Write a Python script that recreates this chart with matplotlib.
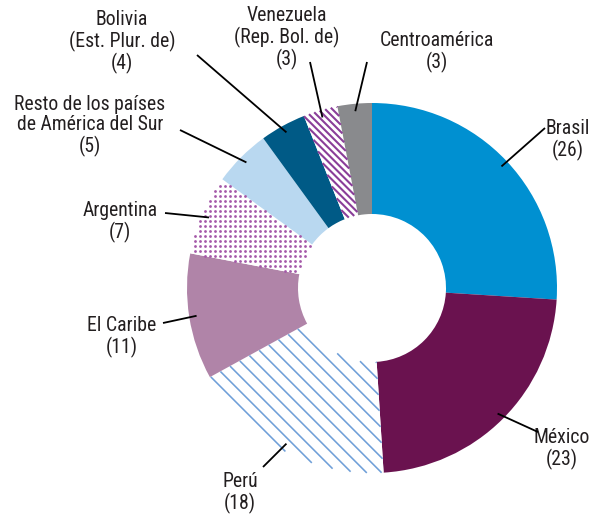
import matplotlib
matplotlib.use("Agg")
import matplotlib.pyplot as plt
from matplotlib import font_manager as fm
import numpy as np

categories = ["Brasil", "México", "Perú", "El Caribe", "Argentina",
              "Resto de los países\nde América del Sur",
              "Bolivia\n(Est. Plur. de)", "Venezuela\n(Rep. Bol. de)",
              "Centroamérica"]
values = [26, 23, 18, 11, 7, 5, 4, 3, 3]

colors = ["#0090D1", "#6A124F", "white", "#B084A8", "white",
          "#B9D8F0", "#005A86", "white", "#898A8D"]
# pattern: (kind, color, spacing px, width)
patterns = [None, None, ("lines", "#6F9FD8", 10.6, 1.15), None,
            ("dots", "#A458A8", 5.0, 4.0), None, None,
            ("lines", "#8A3E99", 5.0, 1.5), None]

# label layout (pixel coords, y from top): text center, line outer end
text_pos = [(568, 140), (562, 449), (240, 493), (122, 337), (120, 222),
            (90, 126), (122, 42), (287, 38), (437, 52)]
line_end = [(545, 128), (538, 432), (263, 467), (163, 323), (165, 213),
            (180, 130), (197, 55), (310, 62), (367, 62)]


def pick_font():
    cands = []
    for f in fm.fontManager.ttflist:
        st = f.stretch
        cond = ('Narrow' in f.name or 'Condensed' in f.name or
                (isinstance(st, str) and 'condensed' in st) or
                (isinstance(st, (int, float)) and st < 500))
        if cond and f.style == 'normal' and f.weight in (400, 'normal', 'regular', 'book'):
            cands.append(f)
    pref = ['Liberation Sans Narrow', 'Roboto Condensed', 'Open Sans Condensed',
            'DejaVu Sans']
    for p in pref:
        for f in cands:
            if f.name == p:
                return f.fname
    if cands:
        return cands[0].fname
    return None


fname = pick_font()
if fname:
    fprop = fm.FontProperties(fname=fname, size=14.2)
else:
    fprop = fm.FontProperties(family=['Liberation Sans', 'DejaVu Sans'], size=12)

W, H = 603, 516
fig = plt.figure(figsize=(W / 100, H / 100), dpi=100)
ax = fig.add_axes([0, 0, 1, 1])

cx, cy, R = 372, H - 288, 185
RI = R * 0.4
wedges, _ = ax.pie(values, startangle=90, counterclock=False, radius=R,
                   center=(cx, cy), colors=colors,
                   wedgeprops=dict(width=R - RI, linewidth=0))


def inside(w, x, y):
    r = np.hypot(x - cx, y - cy)
    a = np.degrees(np.arctan2(y - cy, x - cx))
    span = (w.theta2 - w.theta1) % 360
    rel = (a - w.theta1) % 360
    return (r <= R) & (r >= RI) & (rel <= span)


# custom patterns restricted to the wedge area
for w, pat in zip(wedges, patterns):
    if not pat:
        continue
    kind, col, sp, lw = pat
    if kind == "lines":
        d = sp * np.sqrt(2)
        xs = np.arange(cx - R - 5, cx + R + 5, 0.2)
        segx, segy = [], []
        for c in np.arange(cx + cy - 2 * R - d, cx + cy + 2 * R + d, d):
            ys = c - xs
            m = inside(w, xs, ys)
            if not m.any():
                continue
            yy = np.where(m, ys, np.nan)
            segx.append(xs)
            segy.append(yy)
            segx.append([np.nan])
            segy.append([np.nan])
        ax.plot(np.concatenate(segx), np.concatenate(segy), color=col, lw=lw,
                zorder=3, solid_capstyle="butt")
    else:
        gx, gy = np.meshgrid(np.arange(0, W, sp), np.arange(0, H, sp))
        gx, gy = gx.ravel(), gy.ravel()
        m = inside(w, gx, gy)
        ax.scatter(gx[m], gy[m], s=lw, color=col, linewidths=0, zorder=3)

txt_color = "#231F20"
for w, lab, v, tp, le in zip(wedges, categories, values, text_pos, line_end):
    ang = np.deg2rad((w.theta1 + w.theta2) / 2)
    x0 = cx + 0.96 * R * np.cos(ang)
    y0 = cy + 0.96 * R * np.sin(ang)
    ax.plot([x0, le[0]], [y0, H - le[1]], color="black", lw=1.3,
            solid_capstyle="butt", zorder=5)
    ax.text(tp[0], H - tp[1], f"{lab}\n({v})", ha="center", va="center",
            multialignment="center", fontproperties=fprop, color=txt_color,
            linespacing=1.1)

ax.set_xlim(0, W)
ax.set_ylim(0, H)
ax.set_aspect("equal")
ax.axis("off")
fig.savefig("out.png", dpi=100)
